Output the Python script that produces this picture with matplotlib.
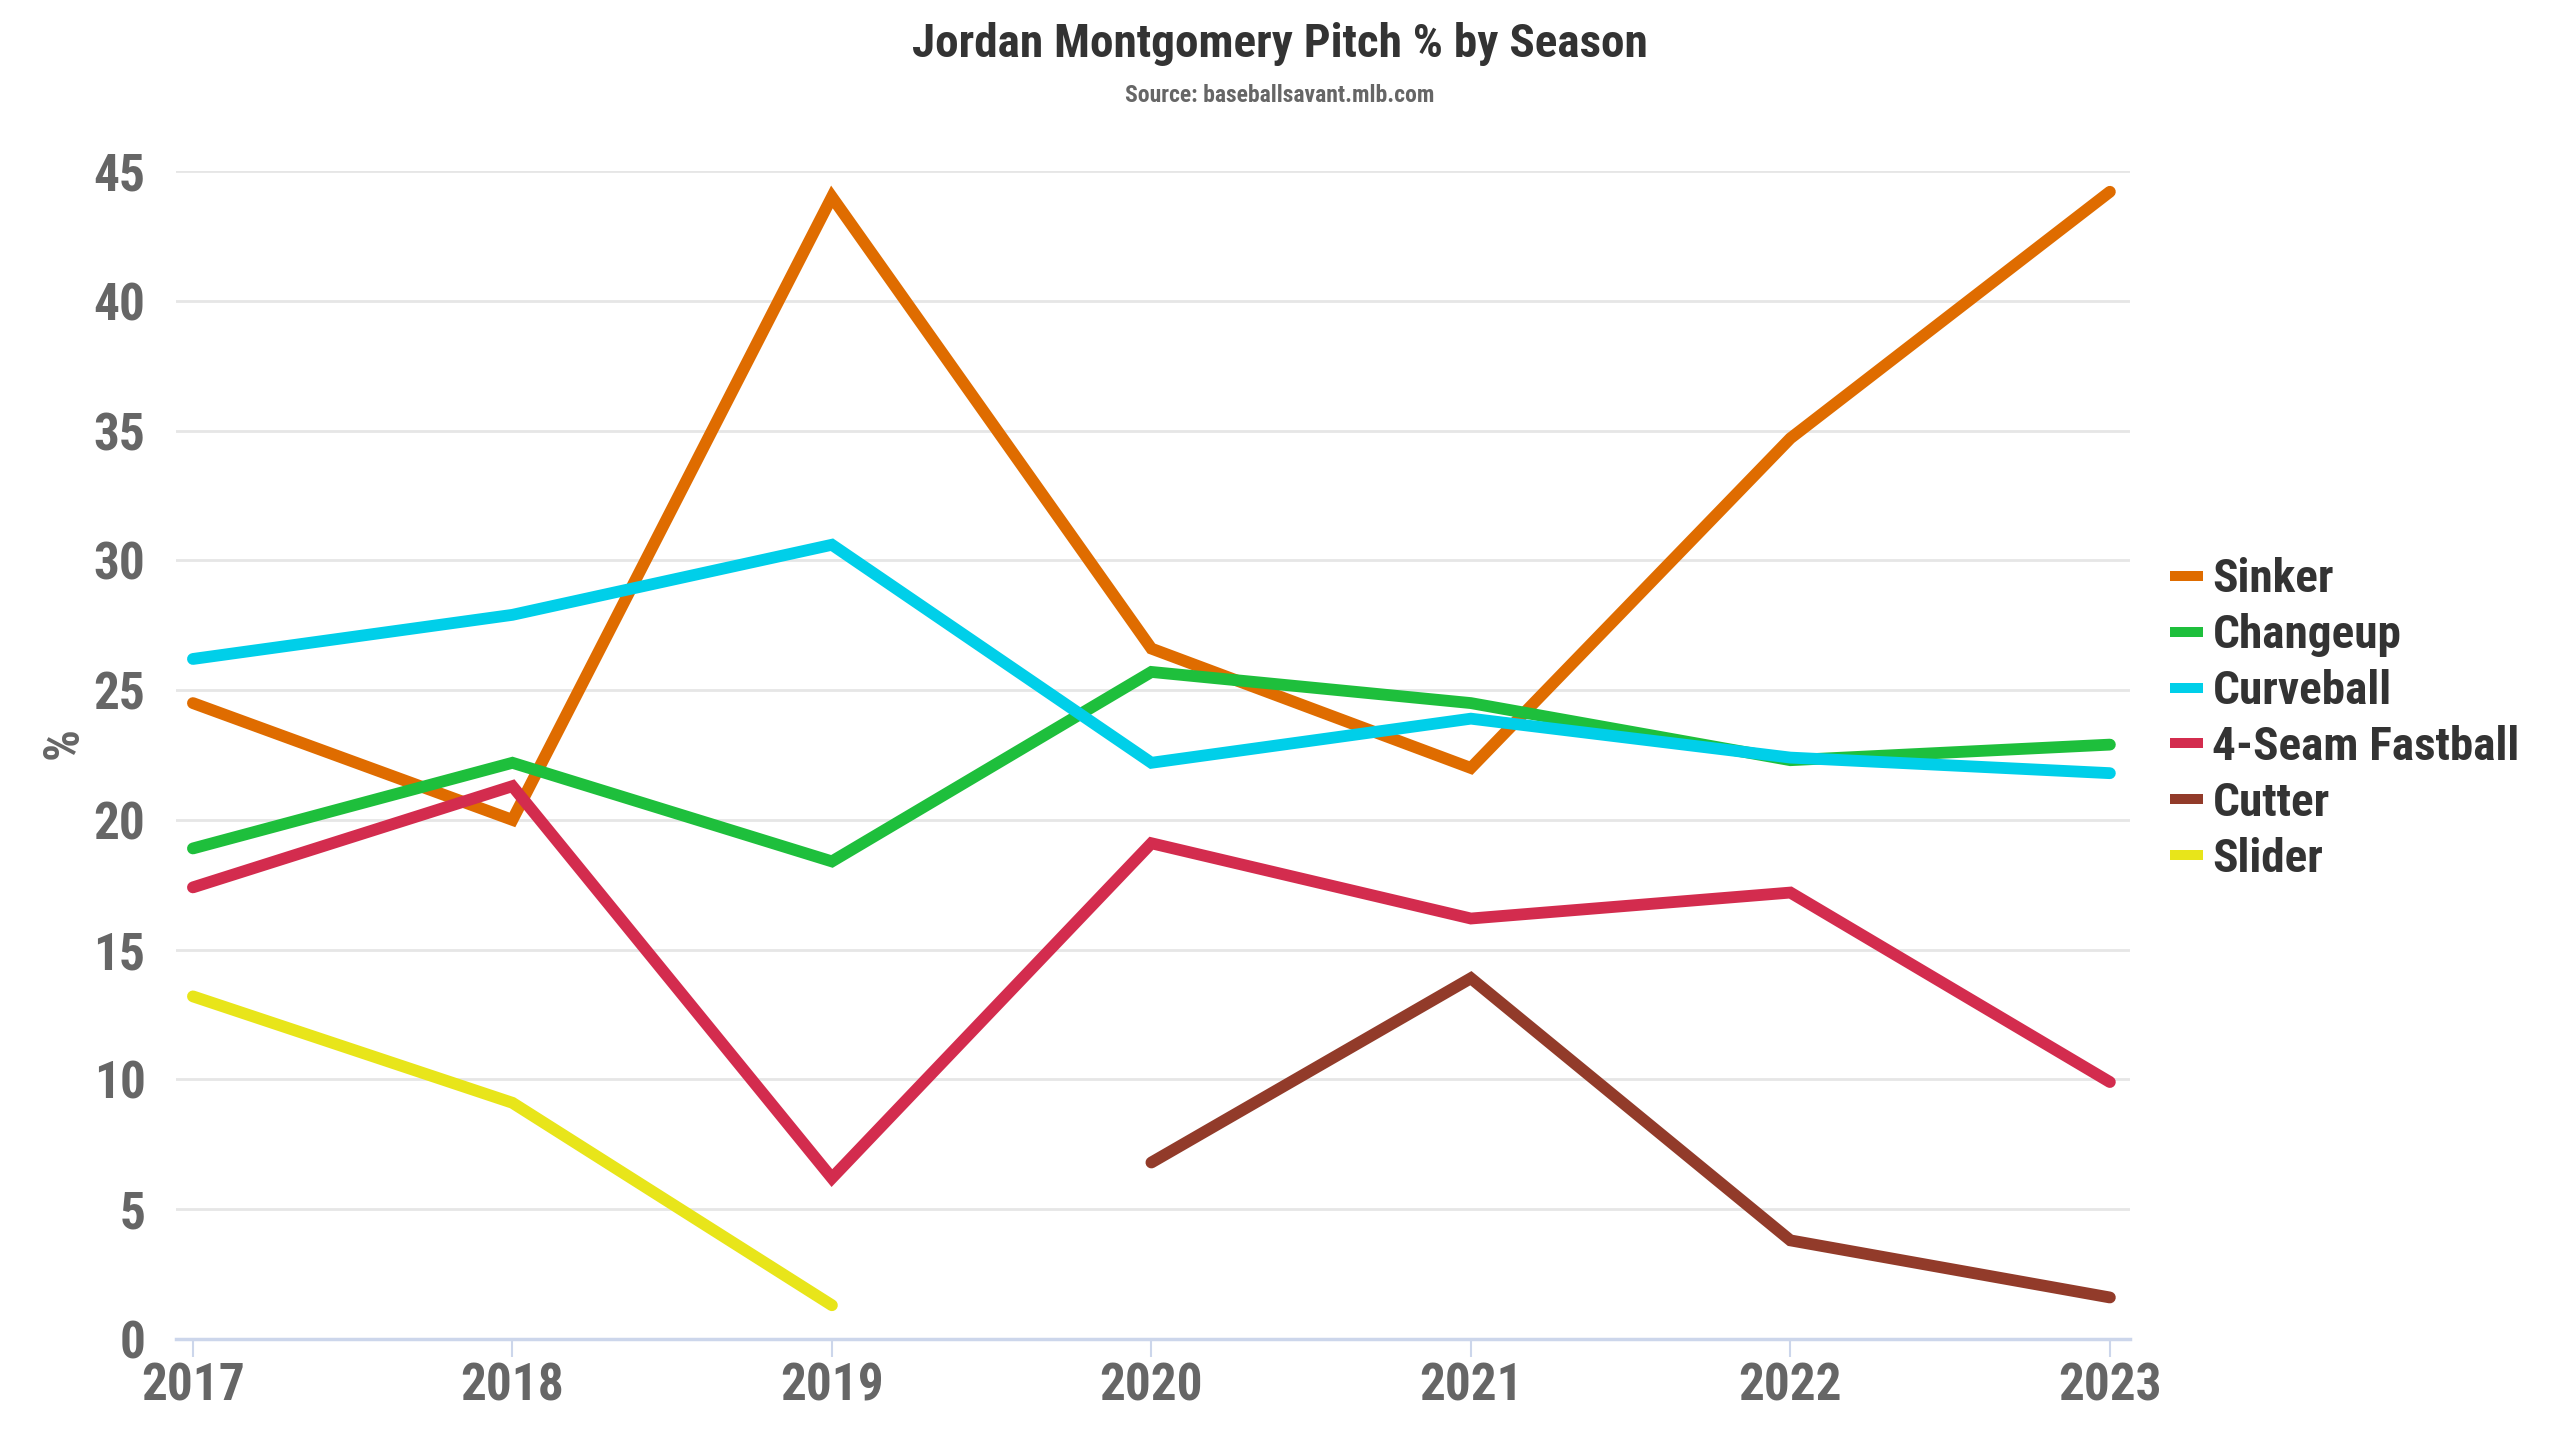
import matplotlib
matplotlib.use("Agg")
import matplotlib.pyplot as plt
from matplotlib.lines import Line2D

plt.rcParams['font.family'] = ['Roboto Condensed', 'Liberation Sans Narrow', 'Roboto', 'DejaVu Sans']

# data
seasons = [2017, 2018, 2019, 2020, 2021, 2022, 2023]
pitches = ["Sinker", "Changeup", "Curveball", "4-Seam Fastball", "Cutter", "Slider"]
sinker = [24.5, 20.0, 44.0, 26.6, 22.0, 34.7, 44.2]
changeup = [18.9, 22.2, 18.4, 25.7, 24.5, 22.3, 22.9]
curveball = [26.2, 27.9, 30.6, 22.2, 23.9, 22.4, 21.8]
fastball = [17.4, 21.3, 6.2, 19.1, 16.2, 17.2, 9.9]
cutter_seasons = [2020, 2021, 2022, 2023]
cutter = [6.8, 13.9, 3.8, 1.6]
slider_seasons = [2017, 2018, 2019]
slider = [13.2, 9.1, 1.3]
colors = ["#DF6C00", "#1EBF3C", "#00CFE9", "#D32C4E", "#923B2A", "#E8E51A"]

series = [
    (seasons, sinker),
    (seasons, changeup),
    (seasons, curveball),
    (seasons, fastball),
    (cutter_seasons, cutter),
    (slider_seasons, slider),
]

fig = plt.figure(figsize=(25.6, 14.4), dpi=100)
ax = fig.add_axes([176 / 2560, 1 - 1339 / 1440, (2130 - 176) / 2560, (1339 - 171) / 1440])

for (xs, ys), c in zip(series, colors):
    ax.plot(xs, ys, color=c, linewidth=8.5, solid_capstyle='round',
            solid_joinstyle='miter', zorder=3)

ax.set_xlim(2016.947, 2023.063)
ax.set_ylim(0, 45)
ax.set_yticks(range(0, 46, 5))
ax.set_xticks(seasons)

# grid and axis
ax.grid(axis='y', color='#e6e6e6', linewidth=2)
ax.grid(axis='x', visible=False)
for s in ['top', 'right', 'left']:
    ax.spines[s].set_visible(False)
ax.spines['bottom'].set_color('#ccd6eb')
ax.spines['bottom'].set_linewidth(2.5)
ax.spines['bottom'].set_zorder(4)
ax.tick_params(axis='x', length=13, width=1.5, color='#ccd6eb', pad=3,
               labelsize=37, labelcolor='#666666')
ax.tick_params(axis='y', length=0, pad=22, labelsize=37, labelcolor='#666666')
for lab in ax.get_xticklabels() + ax.get_yticklabels():
    lab.set_fontweight('bold')

ax.set_ylabel('%', fontsize=36, color='#666666', fontweight='bold')
ax.yaxis.set_label_coords(-0.045, 0.51)

fig.text(0.5, 1 - 44 / 1440, 'Jordan Montgomery Pitch % by Season',
         ha='center', va='center', fontsize=34, fontweight='bold', color='#333333')
fig.text(0.5, 1 - 95 / 1440, 'Source: baseballsavant.mlb.com',
         ha='center', va='center', fontsize=17, fontweight='bold', color='#666666')

handles = [Line2D([], [], color=c, linewidth=7.2, solid_capstyle='butt') for c in colors]
leg = fig.legend(handles, pitches, loc='center left',
                 bbox_to_anchor=(2170 / 2560, 1 - 719 / 1440),
                 frameon=False, fontsize=34, handlelength=0.7,
                 handletextpad=0.2, labelspacing=0.25, borderaxespad=0,
                 borderpad=0)
for t in leg.get_texts():
    t.set_fontweight('bold')
    t.set_color('#333333')

fig.savefig('out.png', dpi=100, facecolor='white')
